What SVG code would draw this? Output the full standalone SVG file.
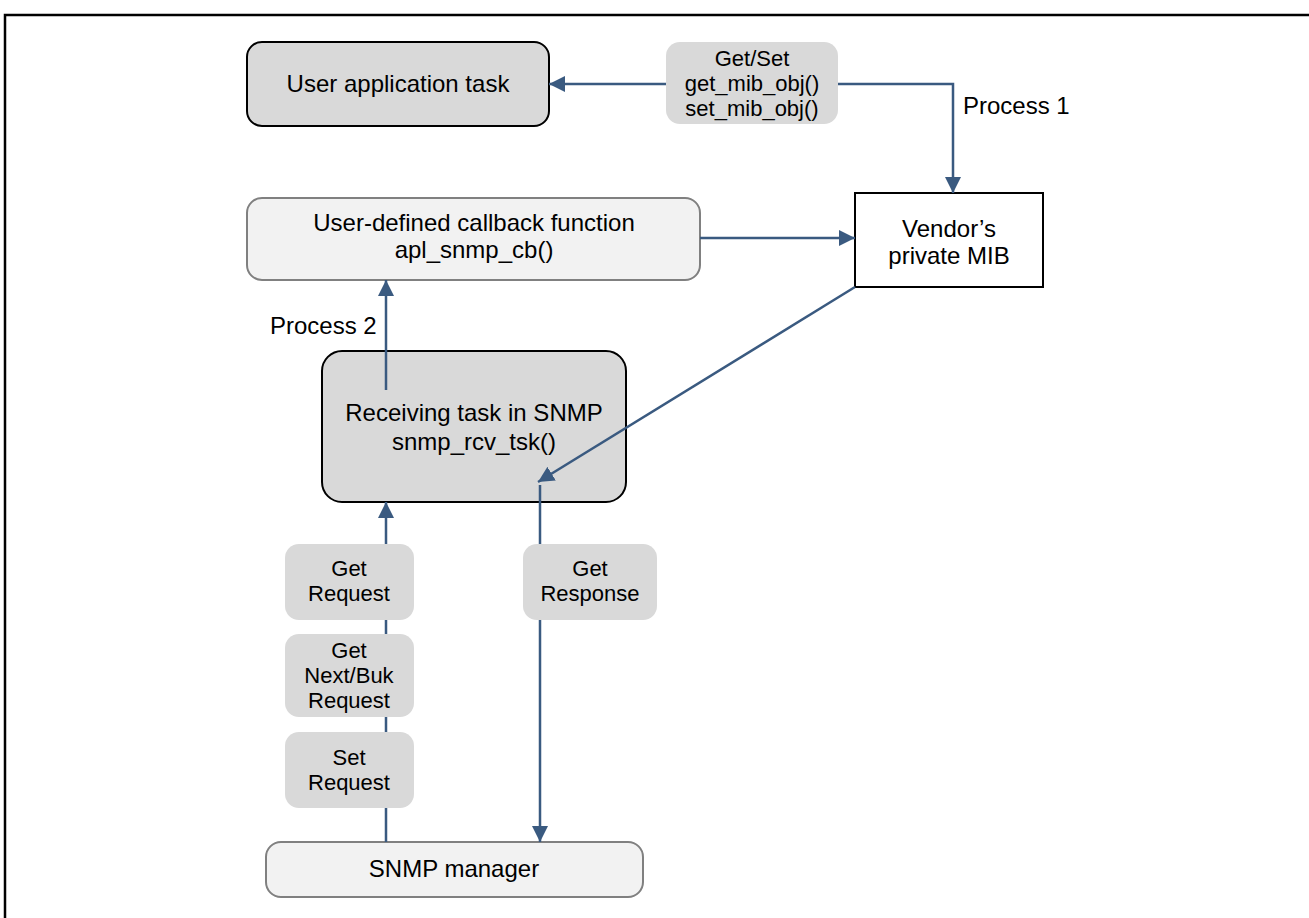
<svg xmlns="http://www.w3.org/2000/svg" width="1309" height="918" viewBox="0 0 1309 918">
<style>
text{font-family:"Liberation Sans",Arial,sans-serif;font-size:24px;fill:#000;text-anchor:middle}
.lbl{text-anchor:start}
.sm{font-size:22px}
.dark{fill:#d9d9d9;stroke:#000;stroke-width:2}
.light{fill:#f2f2f2;stroke:#808080;stroke-width:2}
.tag{fill:#d9d9d9;stroke:none}
.con{fill:none;stroke:#3a5a80;stroke-width:2.5}
</style>
<defs>
<marker id="ah" markerUnits="userSpaceOnUse" markerWidth="18" markerHeight="16" refX="16" refY="8" orient="auto">
<path d="M0,0 L16,8 L0,16 Z" fill="#3a5a80"/>
</marker>
</defs>
<rect width="1309" height="918" fill="#fff"/>
<path d="M5,918 V15 H1309" fill="none" stroke="#000" stroke-width="2.5"/>
<g id="user-app">
<rect class="dark" x="247" y="42" width="302" height="84" rx="15"/>
<text x="398" y="92">User application task</text>
</g>
<g id="vendor">
<rect x="855" y="193" width="188" height="94" fill="#fff" stroke="#000" stroke-width="2"/>
<text x="949" y="237">Vendor’s</text>
<text x="949" y="264">private MIB</text>
</g>
<g id="callback">
<rect class="light" x="247" y="198" width="453" height="82" rx="15"/>
<text x="474" y="231">User-defined callback function</text>
<text x="474" y="258">apl_snmp_cb()</text>
</g>
<g id="receiving">
<rect class="dark" x="322" y="351" width="304" height="151" rx="20"/>
<text x="474" y="421">Receiving task in SNMP</text>
<text x="474" y="450">snmp_rcv_tsk()</text>
</g>
<g id="snmp-manager">
<rect class="light" x="266" y="842" width="377" height="55" rx="15"/>
<text x="454" y="877">SNMP manager</text>
</g>
<g id="connectors">
<path class="con" d="M666,84 H549" marker-end="url(#ah)"/>
<path class="con" d="M838,84 H953 V193" marker-end="url(#ah)"/>
<path class="con" d="M700,238 H855" marker-end="url(#ah)"/>
<path class="con" d="M386,390 V280" marker-end="url(#ah)"/>
<path class="con" d="M855,287 L538,482" marker-end="url(#ah)"/>
<path class="con" d="M540,485 V842" marker-end="url(#ah)"/>
<path class="con" d="M386,842 V502" marker-end="url(#ah)"/>
</g>
<g id="getset">
<rect class="tag" x="666" y="42" width="172" height="82" rx="14"/>
<text class="sm" x="752" y="66">Get/Set</text>
<text class="sm" x="752" y="91">get_mib_obj()</text>
<text class="sm" x="752" y="116">set_mib_obj()</text>
</g>
<text class="lbl" x="963" y="114">Process 1</text>
<text class="lbl" x="270" y="334">Process 2</text>
<g id="get-request">
<rect class="tag" x="285" y="544" width="129" height="76" rx="14"/>
<text class="sm" x="349" y="576">Get</text>
<text class="sm" x="349" y="601">Request</text>
</g>
<g id="getnext-request">
<rect class="tag" x="285" y="634" width="129" height="83" rx="14"/>
<text class="sm" x="349" y="658">Get</text>
<text class="sm" x="349" y="683">Next/Buk</text>
<text class="sm" x="349" y="708">Request</text>
</g>
<g id="set-request">
<rect class="tag" x="285" y="732" width="129" height="76" rx="14"/>
<text class="sm" x="349" y="765">Set</text>
<text class="sm" x="349" y="790">Request</text>
</g>
<g id="get-response">
<rect class="tag" x="523" y="544" width="134" height="76" rx="14"/>
<text class="sm" x="590" y="576">Get</text>
<text class="sm" x="590" y="601">Response</text>
</g>
</svg>
